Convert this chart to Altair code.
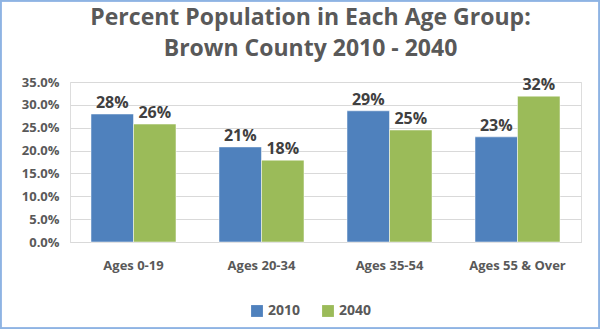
import altair as alt
import pandas as pd

categories = ["Ages 0-19", "Ages 20-34", "Ages 35-54", "Ages 55 & Over"]
years = ["2010", "2040"]
values_2010 = [0.28, 0.208, 0.287, 0.23]
values_2040 = [0.258, 0.179, 0.245, 0.319]
labels_2010 = ["28%", "21%", "29%", "23%"]
labels_2040 = ["26%", "18%", "25%", "32%"]
y_ticks = [0, 0.05, 0.1, 0.15, 0.2, 0.25, 0.3, 0.35]

rows = []
for c, v, l in zip(categories, values_2010, labels_2010):
    rows.append({"cat": c, "year": "2010", "val": v, "lab": l})
for c, v, l in zip(categories, values_2040, labels_2040):
    rows.append({"cat": c, "year": "2040", "val": v, "lab": l})
df = pd.DataFrame(rows)

FONT = "Open Sans"
GRAY = "#595959"

x = alt.X("cat:N", sort=categories, title=None,
          scale=alt.Scale(paddingInner=0.336, paddingOuter=0.164),
          axis=alt.Axis(labelAngle=0, ticks=False, domainColor="#d9d9d9",
                        labelFont=FONT, labelFontSize=13, labelFontWeight="bold",
                        labelColor=GRAY, labelPadding=17))
xo = alt.XOffset("year:N", sort=years)
y = alt.Y("val:Q", title=None,
          scale=alt.Scale(domain=[0, 0.35], nice=False),
          axis=alt.Axis(format=".1%", values=y_ticks,
                        ticks=False, domain=False, gridColor="#d9d9d9",
                        labelOverlap=False,
                        labelFont=FONT, labelFontSize=13, labelFontWeight="bold",
                        labelColor=GRAY, labelPadding=11))

base = alt.Chart(df)

bars = base.mark_bar(stroke="white", strokeWidth=0.5).encode(
    x=x,
    xOffset=xo,
    y=y,
    color=alt.Color("year:N", sort=years,
                    scale=alt.Scale(domain=years, range=["#4F81BD", "#9BBB59"]),
                    legend=alt.Legend(title=None, orient="none", direction="horizontal",
                                      legendX=180, legendY=222, symbolType="square",
                                      symbolSize=140, symbolStrokeWidth=0,
                                      labelFont=FONT, labelFontSize=14, labelFontWeight="bold",
                                      labelColor=GRAY, columnPadding=20)),
)

text = base.mark_text(dy=-3, font=FONT, fontSize=16, fontWeight="bold",
                      color="#404040", baseline="bottom").encode(
    x=x, xOffset=xo, y=y, text="lab:N"
)

border = alt.Chart(df).mark_rect(fill=None, stroke="#8eb4e3", strokeWidth=1.5).encode(
    x=alt.value(-69.5), x2=alt.value(529.5), y=alt.value(-81.5), y2=alt.value(246.5)
)

chart = alt.layer(bars, text, border).properties(
    width=511, height=160,
    title=alt.Title(["Percent Population in Each Age Group:", "Brown County 2010 - 2040"],
                    font=FONT, fontSize=23, fontWeight="bold", color=GRAY,
                    anchor="middle", dx=-15, dy=61, lineHeight=31, offset=0),
    autosize=alt.AutoSizeParams(type="none"),
    padding={"left": 70, "top": 82, "right": 19, "bottom": 87},
).configure_view(stroke=None).configure(background="white")

chart.save("out.html", embed_options={"renderer": "svg", "actions": False})
